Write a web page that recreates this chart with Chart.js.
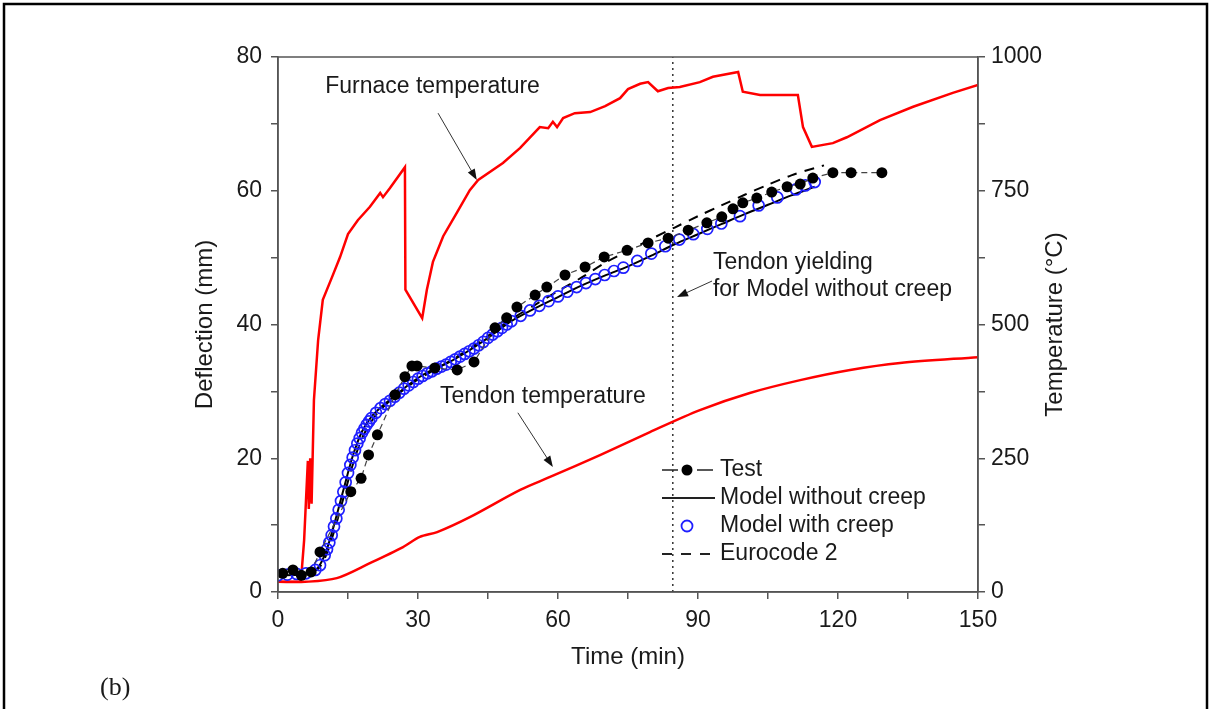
<!DOCTYPE html>
<html>
<head>
<meta charset="utf-8">
<script src="https://cdn.jsdelivr.net/npm/chart.js@4/dist/chart.umd.min.js"></script>
<style>
  body { margin: 0; background: #fff; }
  #wrap { width: 1211px; height: 709px; }
</style>
</head>
<body>
<div id="wrap"><canvas id="chart" width="1211" height="709"></canvas></div>
<script>
// furnace temperature (degC, right axis)
const furnaceTime = [0, 4.9, 5.6, 6.0, 6.4, 6.6, 6.9, 7.2, 7.7, 8.6, 9.6, 11.6, 13.3, 15.0, 17.1, 19.7, 21.9, 22.5, 24.0, 27.2,
    27.3, 30.9, 31.9, 33.2, 35.4, 38.4, 41.1, 42.9, 48.2, 51.9, 56.1, 57.9, 58.9, 59.8, 61.1, 63.6, 66.9, 70.1, 73.3, 75.0,
    77.6, 79.3, 81.4, 83.6, 86.1, 90.4, 93.2, 98.6, 99.6, 103.3, 111.4, 112.5, 114.4, 118.9, 121.9, 129.0, 136.1, 144.6, 150];
const furnaceTemp = [19, 19, 97, 172, 245, 155, 250, 165, 359, 471, 546, 589, 626, 669, 695, 720, 746, 738, 755, 794,
    565, 512, 565, 617, 665, 710, 751, 770, 802, 830, 869, 867, 879, 869, 886, 895, 897, 908, 923, 940,
    950, 953, 936, 942, 944, 953, 963, 972, 935, 929, 929, 869, 832, 839, 850, 882, 907, 933, 948];

// tendon temperature (degC, right axis)
const tendonTime = [0, 5.8, 12.6, 19.7, 26.8, 30.4, 34.1, 41.1, 51.9, 58.3, 69.0, 79.7, 90.4, 101.1, 111.9, 122.6, 133.3, 150];
const tendonTemp = [19, 19, 26, 54, 84, 103, 112, 140, 191, 215, 256, 299, 340, 372, 396, 415, 428, 439];

// test deflection (mm)
const testTime = [1.0, 3.2, 5.0, 7.1, 9.0, 15.6, 17.8, 19.4, 21.3, 25.1, 27.2, 28.7, 29.8, 33.6, 38.4, 42.0, 46.5, 49.0, 51.2, 55.1,
    57.6, 61.5, 65.8, 69.9, 74.8, 79.3, 83.6, 87.9, 91.9, 95.1, 97.5, 99.6, 102.6, 105.8, 109.1, 111.9, 114.6, 118.9, 122.8, 129.4];
const testDefl = [2.8, 3.3, 2.5, 3.0, 6.0, 15.0, 17.0, 20.5, 23.5, 29.5, 32.2, 33.8, 33.8, 33.5, 33.2, 34.4, 39.5, 41.0, 42.6, 44.4,
    45.6, 47.4, 48.6, 50.1, 51.1, 52.2, 52.9, 54.1, 55.2, 56.1, 57.3, 58.2, 58.9, 59.8, 60.6, 61.0, 61.9, 62.7, 62.7, 62.7];

// model without creep (mm)
const noCreepTime = [0, 5, 8, 10, 12, 14, 16, 18, 20, 22, 25, 28, 30, 33, 36, 40, 45, 50, 55, 60, 65, 70, 75, 80, 85, 90, 95, 100, 105, 110, 115];
const noCreepDefl = [2.5, 2.6, 3.2, 5.5, 10.0, 15.2, 20.3, 24.0, 26.2, 27.6, 29.3, 31.0, 32.0, 33.2, 34.1, 35.7, 38.0, 40.5, 42.4, 44.1,
    45.8, 47.3, 48.7, 50.3, 52.0, 53.5, 55.0, 56.5, 57.9, 59.3, 60.6];

// model with creep (mm)
const creepTime = [0, 2, 4, 6, 8, 9, 10, 10.5, 11, 11.5, 12, 12.5, 13, 13.5, 14, 14.5, 15, 15.5, 16, 16.5, 17, 17.5, 18, 18.5, 19, 19.5,
    20, 21, 22, 23, 24, 25, 26, 27, 28, 29, 30, 31, 32, 33, 34, 35, 36, 37, 38, 39, 40, 41, 42, 43, 44, 45, 46, 47, 48, 49, 50,
    52, 54, 56, 58, 60, 62, 64, 66, 68, 70, 72, 74, 77, 80, 83, 86, 89, 92, 95, 99, 103, 107, 111, 113, 115];
const creepDefl = [2.5, 2.6, 2.7, 2.8, 3.3, 4.0, 5.5, 6.4, 7.4, 8.5, 9.8, 11.0, 12.3, 13.6, 15.0, 16.4, 17.8, 19.0, 20.1, 21.2, 22.2, 23.0,
    23.8, 24.4, 25.0, 25.5, 26.0, 26.8, 27.5, 28.1, 28.6, 29.2, 29.8, 30.4, 30.9, 31.4, 31.9, 32.3, 32.7, 33.0, 33.4, 33.7, 34.0, 34.4,
    34.8, 35.2, 35.6, 36.0, 36.4, 36.9, 37.4, 38.0, 38.5, 39.0, 39.5, 40.0, 40.5, 41.3, 42.1, 42.8, 43.5, 44.2, 44.9, 45.6, 46.2, 46.8,
    47.4, 48.0, 48.5, 49.5, 50.6, 51.7, 52.7, 53.5, 54.3, 55.1, 56.2, 57.8, 59.0, 60.2, 60.8, 61.3];

// Eurocode 2 (mm)
const ec2Time = [0, 8, 10, 12, 14, 16, 18, 20, 22, 25, 28, 30, 35, 40, 45, 50, 55, 60, 65, 70, 75, 80, 85, 90, 95, 100, 105, 110, 115, 117];
const ec2Defl = [2.5, 3.2, 5.0, 9.0, 14.0, 19.0, 23.0, 25.5, 27.3, 29.2, 30.8, 31.8, 33.8, 35.9, 38.3, 40.8, 42.9, 45.0, 47.0, 49.2,
    51.0, 52.8, 54.5, 56.2, 57.8, 59.4, 60.9, 62.3, 63.4, 63.8];

// tendon yielding time for model without creep (min)
const yieldTime = [84.6, 84.6];
const yieldDefl = [0, 80];

const FONT = "'Liberation Sans', Arial, sans-serif";
const INK = '#1a1a1a';
const AXIS = '#555';

const pts = (xs, ys) => xs.map((x, i) => ({x: x, y: ys[i]}));

// text notes and arrows, in data units (min, mm)
const notes = [
    {text: 'Furnace temperature', t: 10.1, d: 75.5},
    {text: 'Tendon temperature', t: 34.7, d: 29.2},
    {text: 'Tendon yielding', t: 93.2, d: 49.2},
    {text: 'for Model without creep', t: 93.2, d: 45.2}
];
const arrows = [
    {from: [34.3, 71.6], to: [42.6, 61.6]},
    {from: [51.4, 26.8], to: [58.9, 18.7]},
    {from: [93.0, 46.5], to: [85.5, 44.1]}
];

function drawArrow(c, x1, y1, x2, y2) {
    const a = Math.atan2(y2 - y1, x2 - x1);
    c.strokeStyle = '#333';
    c.fillStyle = '#111';
    c.lineWidth = 1;
    c.beginPath();
    c.moveTo(x1, y1);
    c.lineTo(x2 - 8 * Math.cos(a), y2 - 8 * Math.sin(a));
    c.stroke();
    c.beginPath();
    c.moveTo(x2, y2);
    c.lineTo(x2 - 11 * Math.cos(a) + 4 * Math.sin(a), y2 - 11 * Math.sin(a) - 4 * Math.cos(a));
    c.lineTo(x2 - 11 * Math.cos(a) - 4 * Math.sin(a), y2 - 11 * Math.sin(a) + 4 * Math.cos(a));
    c.closePath();
    c.fill();
}

const decor = {
    id: 'decor',
    beforeDraw(chart) {
        const c = chart.ctx;
        c.save();
        c.fillStyle = '#fff';
        c.fillRect(0, 0, chart.width, chart.height);
        // figure frame
        c.strokeStyle = '#000';
        c.lineWidth = 2.5;
        c.beginPath();
        c.moveTo(4, chart.height + 2);
        c.lineTo(4, 4);
        c.lineTo(1207, 4);
        c.lineTo(1207, chart.height + 2);
        c.stroke();
        c.restore();
    },
    afterDraw(chart) {
        const c = chart.ctx;
        const area = chart.chartArea;
        const xs = chart.scales.x, ys = chart.scales.y;
        c.save();
        // plot box
        c.strokeStyle = AXIS;
        c.lineWidth = 1.5;
        c.strokeRect(area.left, area.top, area.right - area.left, area.bottom - area.top);

        // axis titles
        c.fillStyle = INK;
        c.font = '24px ' + FONT;
        c.textAlign = 'center';
        c.textBaseline = 'middle';
        c.fillText('Time (min)', (area.left + area.right) / 2, 657);
        c.save();
        c.translate(205, (area.top + area.bottom) / 2);
        c.rotate(-Math.PI / 2);
        c.fillText('Deflection (mm)', 0, 0);
        c.restore();
        c.save();
        c.translate(1055, (area.top + area.bottom) / 2);
        c.rotate(-Math.PI / 2);
        c.fillText('Temperature (\u00B0C)', 0, 0);
        c.restore();

        // notes
        c.font = '23px ' + FONT;
        c.textAlign = 'left';
        notes.forEach(n => c.fillText(n.text, xs.getPixelForValue(n.t), ys.getPixelForValue(n.d)));
        arrows.forEach(a => drawArrow(c,
            xs.getPixelForValue(a.from[0]), ys.getPixelForValue(a.from[1]),
            xs.getPixelForValue(a.to[0]), ys.getPixelForValue(a.to[1])));

        // legend
        const lx = 662, rows = [470, 498, 526, 554], tx = 720;
        c.strokeStyle = '#222';
        c.lineWidth = 1.5;
        c.beginPath();
        c.moveTo(lx, rows[0]); c.lineTo(678, rows[0]);
        c.moveTo(697, rows[0]); c.lineTo(713, rows[0]);
        c.stroke();
        c.fillStyle = '#000';
        c.beginPath(); c.arc(687, rows[0], 5.5, 0, Math.PI * 2); c.fill();
        c.lineWidth = 2.2;
        c.beginPath(); c.moveTo(lx, rows[1]); c.lineTo(715, rows[1]); c.stroke();
        c.strokeStyle = '#1f1fff';
        c.lineWidth = 1.8;
        c.beginPath(); c.arc(687, rows[2], 5.5, 0, Math.PI * 2); c.stroke();
        c.strokeStyle = '#222';
        c.lineWidth = 2.2;
        c.setLineDash([10, 9]);
        c.beginPath(); c.moveTo(lx, rows[3]); c.lineTo(715, rows[3]); c.stroke();
        c.setLineDash([]);
        c.fillStyle = INK;
        c.font = '23px ' + FONT;
        ['Test', 'Model without creep', 'Model with creep', 'Eurocode 2'].forEach((s, i) => c.fillText(s, tx, rows[i]));

        // panel label
        c.font = '26px "Liberation Serif", "Times New Roman", serif';
        c.fillText('(b)', 100, 688);
        c.restore();
    }
};

function tickAxis(extra) {
    return Object.assign({
        type: 'linear',
        grid: {drawOnChartArea: false, drawTicks: true, tickLength: 7, color: AXIS, lineWidth: 1.5},
        border: {display: true, color: AXIS, width: 1.5},
        title: {display: false}
    }, extra);
}

new Chart(document.getElementById('chart'), {
    type: 'line',
    data: {
        datasets: [
            {label: 'Test', data: pts(testTime, testDefl), yAxisID: 'y', borderColor: '#444', borderWidth: 1.2,
             borderDash: [6, 4], pointRadius: 5.5, pointBackgroundColor: '#000', pointBorderColor: '#000', pointBorderWidth: 0,
             tension: 0, order: 1},
            {label: 'Model with creep', data: pts(creepTime, creepDefl), yAxisID: 'y', showLine: false,
             pointRadius: 5.5, pointBorderColor: '#1f1fff', pointBackgroundColor: 'rgba(0,0,0,0)', pointBorderWidth: 1.7, order: 2},
            {label: 'Model without creep', data: pts(noCreepTime, noCreepDefl), yAxisID: 'y', borderColor: '#000',
             borderWidth: 2, pointRadius: 0, tension: 0.3, order: 3},
            {label: 'Eurocode 2', data: pts(ec2Time, ec2Defl), yAxisID: 'y', borderColor: '#000', borderWidth: 2,
             borderDash: [10, 8], pointRadius: 0, tension: 0.3, order: 4},
            {label: 'Furnace temperature', data: pts(furnaceTime, furnaceTemp), yAxisID: 'y2', borderColor: '#ff0000',
             borderWidth: 2.5, pointRadius: 0, tension: 0, order: 5},
            {label: 'Tendon temperature', data: pts(tendonTime, tendonTemp), yAxisID: 'y2', borderColor: '#ff0000',
             borderWidth: 2.5, pointRadius: 0, tension: 0.3, order: 6},
            {label: 'Tendon yielding', data: pts(yieldTime, yieldDefl), yAxisID: 'y', borderColor: '#333',
             borderWidth: 1.5, borderDash: [2, 4], pointRadius: 0, order: 7}
        ]
    },
    options: {
        responsive: false,
        animation: false,
        events: [],
        layout: {padding: {left: 186, right: 141, top: 57, bottom: 37}},
        plugins: {legend: {display: false}, tooltip: {enabled: false}},
        scales: {
            x: tickAxis({
                position: 'bottom', min: 0, max: 150,
                ticks: {stepSize: 15, autoSkip: false, maxRotation: 0, color: INK, padding: 8, font: {size: 23, family: FONT},
                        callback: v => (v % 30 === 0 ? String(v) : '')},
                afterFit: s => { s.height = 80; }
            }),
            y: tickAxis({
                position: 'left', min: 0, max: 80,
                ticks: {stepSize: 10, autoSkip: false, color: INK, padding: 9, font: {size: 23, family: FONT},
                        callback: v => (v % 20 === 0 ? String(v) : '')},
                afterFit: s => { s.width = 92; }
            }),
            y2: tickAxis({
                position: 'right', min: 0, max: 1000,
                ticks: {stepSize: 125, autoSkip: false, color: INK, padding: 6, font: {size: 23, family: FONT},
                        callback: v => (v % 250 === 0 ? String(v) : '')},
                afterFit: s => { s.width = 92; }
            })
        }
    },
    plugins: [decor]
});
</script>
</body>
</html>
